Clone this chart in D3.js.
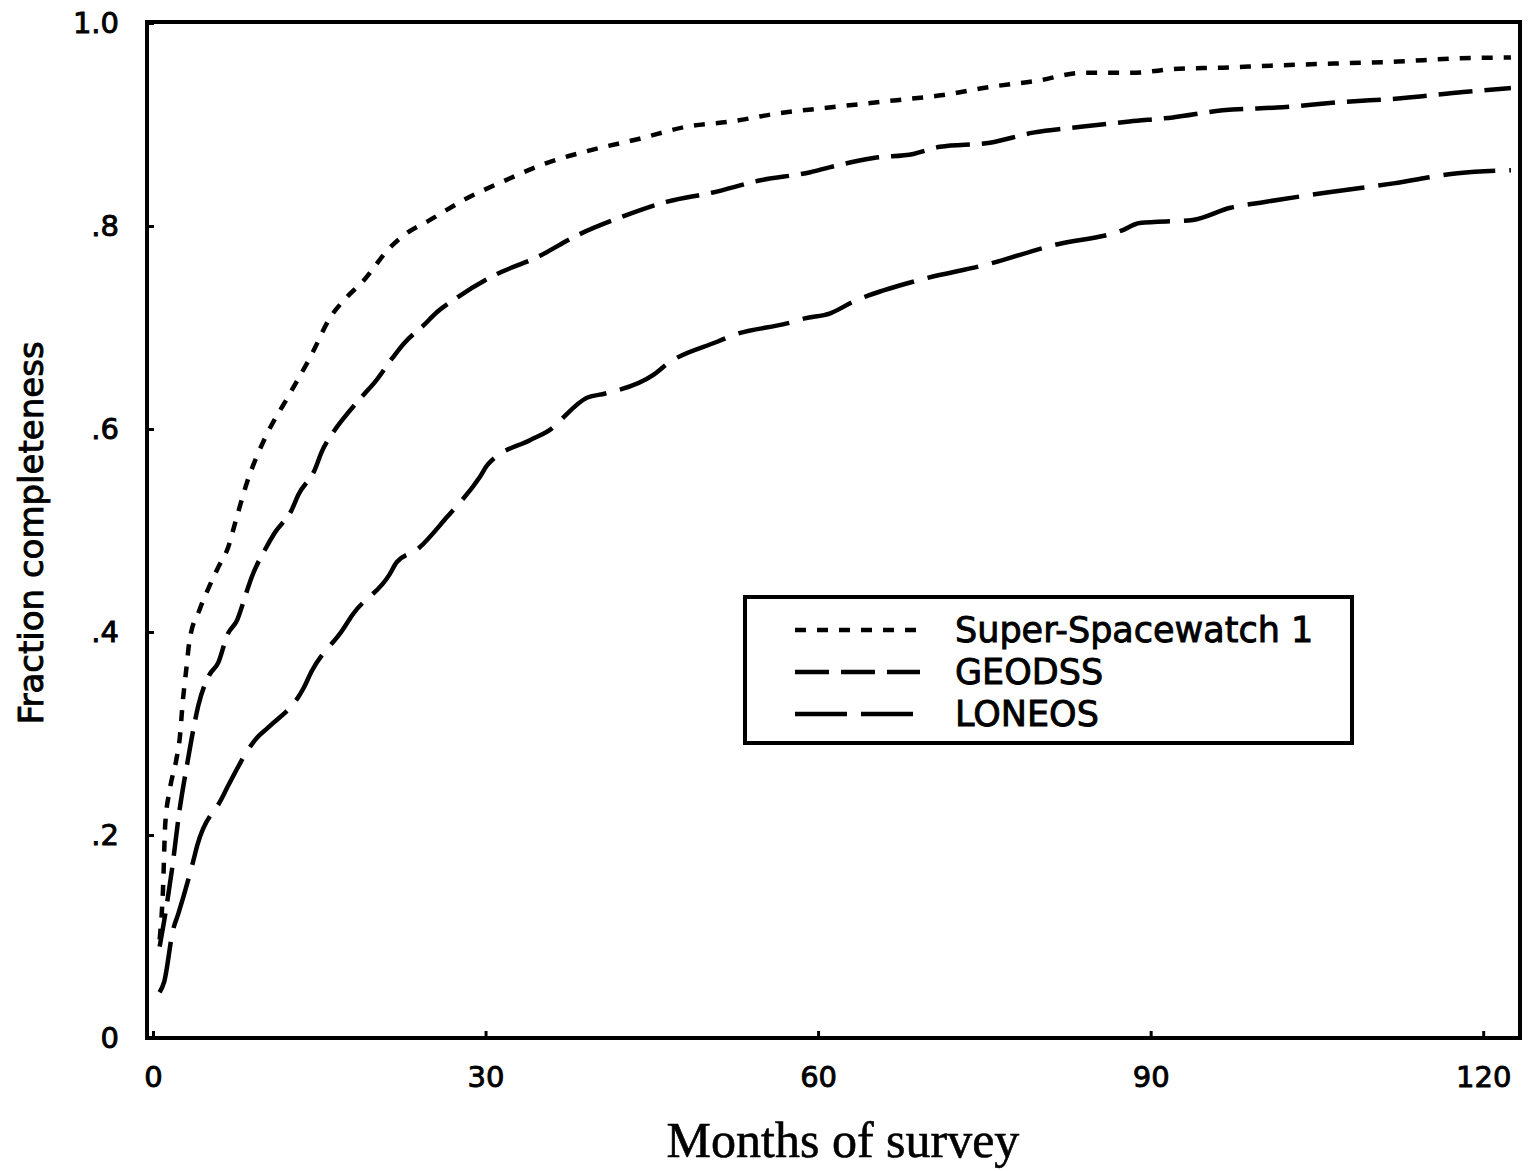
<!DOCTYPE html>
<html>
<head>
<meta charset="utf-8">
<script src="https://cdn.jsdelivr.net/npm/d3@7"></script>
<style>
  html, body { margin: 0; padding: 0; background: #fff; }
  svg { display: block; }
</style>
</head>
<body>
<svg id="chart" width="1539" height="1171"></svg>
<script>
// Survey completeness vs. survey duration for three search programmes.

const seriesNames = ["Super-Spacewatch 1", "GEODSS", "LONEOS"];

const spacewatchMonths = [0.6, 0.9, 1.1, 1.5, 2.1, 2.4, 2.7, 3.0, 3.3, 4.2, 5.0, 5.9, 6.8, 7.4, 8.5, 10.1, 12.2, 14.2, 16.0, 17.4, 18.9, 21.4, 22.9, 25.0, 28.1, 31.8, 35.5, 39.6, 43.9, 48.2, 52.2, 56.4, 60.4, 67.1, 71.3, 75.5, 79.7, 83.9, 88.3, 92.5, 96.5, 100.8, 106.5, 112.3, 117.3, 122.5];
const spacewatchValues = [0.097, 0.146, 0.210, 0.244, 0.274, 0.294, 0.333, 0.363, 0.392, 0.422, 0.443, 0.464, 0.484, 0.507, 0.548, 0.591, 0.632, 0.671, 0.710, 0.729, 0.745, 0.779, 0.793, 0.806, 0.826, 0.845, 0.862, 0.875, 0.886, 0.898, 0.903, 0.911, 0.916, 0.924, 0.929, 0.937, 0.943, 0.951, 0.951, 0.955, 0.956, 0.958, 0.960, 0.962, 0.965, 0.966];

const geodssMonths = [0.6, 1.0, 1.7, 2.4, 3.1, 3.8, 4.1, 5.1, 5.9, 6.7, 7.6, 8.4, 8.9, 10.1, 11.0, 12.5, 13.1, 14.6, 15.2, 16.4, 17.3, 19.1, 20.0, 21.6, 22.7, 24.4, 25.6, 27.5, 30.9, 34.6, 38.3, 42.3, 46.4, 50.5, 54.8, 59.3, 61.1, 65.0, 68.6, 71.0, 75.5, 79.4, 83.9, 88.1, 92.0, 96.5, 101.9, 107.1, 112.8, 118.2, 122.5];
const geodssValues = [0.090, 0.115, 0.165, 0.225, 0.271, 0.313, 0.328, 0.358, 0.370, 0.397, 0.412, 0.438, 0.454, 0.481, 0.498, 0.520, 0.535, 0.560, 0.577, 0.599, 0.612, 0.635, 0.646, 0.670, 0.685, 0.702, 0.715, 0.730, 0.752, 0.769, 0.791, 0.809, 0.824, 0.833, 0.845, 0.853, 0.858, 0.867, 0.871, 0.878, 0.882, 0.892, 0.898, 0.903, 0.907, 0.914, 0.917, 0.922, 0.926, 0.932, 0.936];

const loneosMonths = [0.6, 1.0, 1.8, 2.3, 3.6, 4.0, 6.2, 6.8, 9.4, 10.4, 13.6, 14.3, 17.1, 18.0, 21.3, 22.0, 23.8, 26.5, 29.5, 30.2, 34.0, 35.5, 39.2, 40.8, 45.1, 46.5, 50.9, 52.5, 57.2, 58.8, 61.1, 63.1, 69.2, 75.2, 81.2, 87.5, 89.0, 93.8, 97.2, 99.9, 105.9, 111.9, 117.7, 122.5];
const loneosValues = [0.045, 0.055, 0.106, 0.123, 0.173, 0.190, 0.236, 0.249, 0.296, 0.306, 0.345, 0.361, 0.402, 0.417, 0.456, 0.469, 0.481, 0.513, 0.553, 0.565, 0.589, 0.597, 0.631, 0.635, 0.653, 0.665, 0.686, 0.693, 0.704, 0.709, 0.714, 0.725, 0.747, 0.762, 0.781, 0.796, 0.803, 0.806, 0.818, 0.823, 0.833, 0.842, 0.852, 0.855];

const xTickValues = [0, 30, 60, 90, 120];
const yTickValues = [0, 0.2, 0.4, 0.6, 0.8, 1.0];
const yTickLabels = ["0", ".2", ".4", ".6", ".8", "1.0"];

const xTitle = "Months of survey";
const yTitle = "Fraction completeness";

const svg = d3.select("#chart");

// plot frame
const frame = { left: 147, right: 1520, top: 22, bottom: 1038 };

const x = d3.scaleLinear().domain([0, 123.5]).range([153, 1522]);
const y = d3.scaleLinear().domain([0, 1]).range([1038, 23]);

const dashes = ["11,11", "34,12", "52,14"];

const series = [
  { name: seriesNames[0], months: spacewatchMonths, values: spacewatchValues, dash: dashes[0] },
  { name: seriesNames[1], months: geodssMonths, values: geodssValues, dash: dashes[1] },
  { name: seriesNames[2], months: loneosMonths, values: loneosValues, dash: dashes[2] }
];

const line = d3.line()
  .x(d => x(d[0]))
  .y(d => y(d[1]))
  .curve(d3.curveMonotoneX);

// curves
const curves = svg.append("g").attr("fill", "none").attr("stroke", "#000")
  .attr("stroke-width", 4.5).attr("stroke-linecap", "butt");
series.forEach(s => {
  curves.append("path")
    .datum(s.months.map((m, i) => [m, s.values[i]]))
    .attr("d", line)
    .attr("stroke-dasharray", s.dash);
});

// axes (inward ticks, frame drawn separately)
const tickFont = "'DejaVu Sans', sans-serif";

function styleText(sel, size) {
  sel.attr("font-family", tickFont).attr("font-size", size)
    .attr("fill", "#000").attr("stroke", "#000").attr("stroke-width", 0.9);
}

const yAxis = svg.append("g")
  .attr("transform", `translate(${frame.left},0)`)
  .call(d3.axisLeft(y).tickValues(yTickValues)
    .tickFormat((d, i) => yTickLabels[i])
    .tickSizeInner(-7).tickSizeOuter(0).tickPadding(28));
yAxis.select(".domain").remove();
yAxis.selectAll("line").attr("stroke-width", 3);
styleText(yAxis.selectAll("text"), 29);

const xAxis = svg.append("g")
  .attr("transform", `translate(0,${frame.bottom})`)
  .call(d3.axisBottom(x).tickValues(xTickValues)
    .tickFormat(d3.format("d"))
    .tickSizeInner(-7).tickSizeOuter(0).tickPadding(28));
xAxis.select(".domain").remove();
xAxis.selectAll("line").attr("stroke-width", 3);
styleText(xAxis.selectAll("text"), 29);

// frame
svg.append("rect")
  .attr("x", frame.left).attr("y", frame.top)
  .attr("width", frame.right - frame.left).attr("height", frame.bottom - frame.top)
  .attr("fill", "none").attr("stroke", "#000").attr("stroke-width", 4);

// axis titles
svg.append("text")
  .attr("x", 843).attr("y", 1157)
  .attr("text-anchor", "middle")
  .attr("font-family", "'Liberation Serif', 'Times New Roman', serif")
  .attr("font-size", 50)
  .attr("stroke", "#000").attr("stroke-width", 0.6)
  .text(xTitle);

styleText(svg.append("text")
  .attr("transform", "translate(43,533) rotate(-90)")
  .attr("text-anchor", "middle")
  .text(yTitle), 34);

// legend
const legend = svg.append("g");
legend.append("rect")
  .attr("x", 745).attr("y", 597).attr("width", 607).attr("height", 146)
  .attr("fill", "#fff").attr("stroke", "#000").attr("stroke-width", 4);

series.forEach((s, i) => {
  const cy = 630 + i * 42;
  legend.append("line")
    .attr("x1", 795).attr("x2", 920).attr("y1", cy).attr("y2", cy)
    .attr("stroke", "#000").attr("stroke-width", 4.5)
    .attr("stroke-dasharray", s.dash);
  styleText(legend.append("text")
    .attr("x", 955).attr("y", cy + 12)
    .text(s.name), 35);
});
</script>
</body>
</html>
